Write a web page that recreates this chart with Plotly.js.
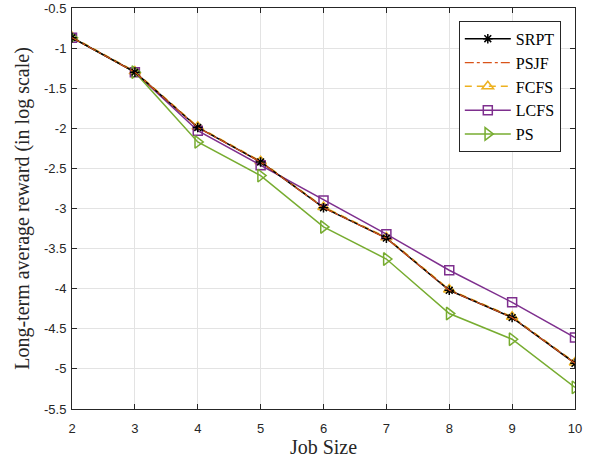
<!DOCTYPE html>
<html>
<head>
<meta charset="utf-8">
<script src="https://cdn.plot.ly/plotly-3.0.1.min.js"></script>
<style>html,body{margin:0;padding:0;background:#fff;}#chart{width:597px;height:459px;}</style>
</head>
<body>
<div id="chart"></div>
<script>
const jobSize = [2, 3, 4, 5, 6, 7, 8, 9, 10];
const srpt = [-0.87, -1.30, -1.99, -2.42, -2.99, -3.37, -4.02, -4.36, -4.93];
const psjf = [-0.87, -1.30, -1.99, -2.42, -2.99, -3.37, -4.02, -4.36, -4.93];
const fcfs = [-0.86, -1.29, -1.98, -2.41, -2.98, -3.36, -4.01, -4.35, -4.92];
const lcfs = [-0.87, -1.30, -2.03, -2.46, -2.90, -3.32, -3.77, -4.17, -4.61];
const ps   = [-0.87, -1.30, -2.17, -2.59, -3.23, -3.63, -4.31, -4.63, -5.23];
const yTicks = [-5.5, -5, -4.5, -4, -3.5, -3, -2.5, -2, -1.5, -1, -0.5];

const traces = [
  {x: jobSize, y: fcfs, name: 'FCFS', legendrank: 3, mode: 'lines+markers',
   line: {color: '#EDB120', width: 1.5, dash: '7px,5px'},
   marker: {symbol: 'triangle-up-open', size: 10, color: '#EDB120', line: {width: 1.5, color: '#EDB120'}}},
  {x: jobSize, y: lcfs, name: 'LCFS', legendrank: 4, mode: 'lines+markers',
   line: {color: '#7E2F8E', width: 1.5},
   marker: {symbol: 'square-open', size: 9, color: '#7E2F8E', line: {width: 1.5, color: '#7E2F8E'}}},
  {x: jobSize, y: ps, name: 'PS', legendrank: 5, mode: 'lines+markers',
   line: {color: '#77AC30', width: 1.5},
   marker: {symbol: 'triangle-right-open', size: 11, color: '#77AC30', line: {width: 1.5, color: '#77AC30'}}},
  {x: jobSize, y: srpt, name: 'SRPT', legendrank: 1, mode: 'lines+markers',
   line: {color: '#000000', width: 1.5},
   marker: {symbol: 'asterisk-open', size: 8, color: '#000000', line: {width: 1.5, color: '#000000'}}},
  {x: jobSize, y: psjf, name: 'PSJF', legendrank: 2, mode: 'lines',
   line: {color: '#D95319', width: 1.2, dash: 'dashdot'}}
];

const axisCommon = {
  showline: true, linecolor: '#262626', linewidth: 1, mirror: 'ticks',
  ticks: 'inside', ticklen: 5, tickcolor: '#262626',
  showgrid: true, gridcolor: '#e3e3e3', gridwidth: 1, zeroline: false,
  tickfont: {family: 'Liberation Sans, Arial, sans-serif', size: 13, color: '#262626'}
};

const layout = {
  width: 597, height: 459,
  margin: {l: 72, r: 22, t: 8, b: 50},
  paper_bgcolor: '#ffffff', plot_bgcolor: '#ffffff',
  showlegend: true,
  xaxis: Object.assign({}, axisCommon, {
    range: [2, 10], tickvals: jobSize, ticktext: jobSize.map(String),
    ticklabelstandoff: 7,
    title: {text: 'Job Size', font: {family: 'Liberation Serif, Times New Roman, serif', size: 20, color: '#262626'}, standoff: 4}
  }),
  yaxis: Object.assign({}, axisCommon, {
    range: [-5.5, -0.5], tickvals: yTicks, ticktext: yTicks.map(String),
    ticklabelstandoff: 2,
    title: {text: 'Long-term average reward (in log scale)', font: {family: 'Liberation Serif, Times New Roman, serif', size: 20, color: '#262626'}, standoff: 8}
  }),
  legend: {
    x: 0.769, y: 0.968, xanchor: 'left', yanchor: 'top',
    bgcolor: '#ffffff', bordercolor: '#262626', borderwidth: 1,
    font: {family: 'Liberation Serif, Times New Roman, serif', size: 16, color: '#000000'},
    tracegroupgap: 0, itemwidth: 46
  }
};

Plotly.newPlot('chart', traces, layout, {displayModeBar: false, staticPlot: true});
</script>
</body>
</html>
